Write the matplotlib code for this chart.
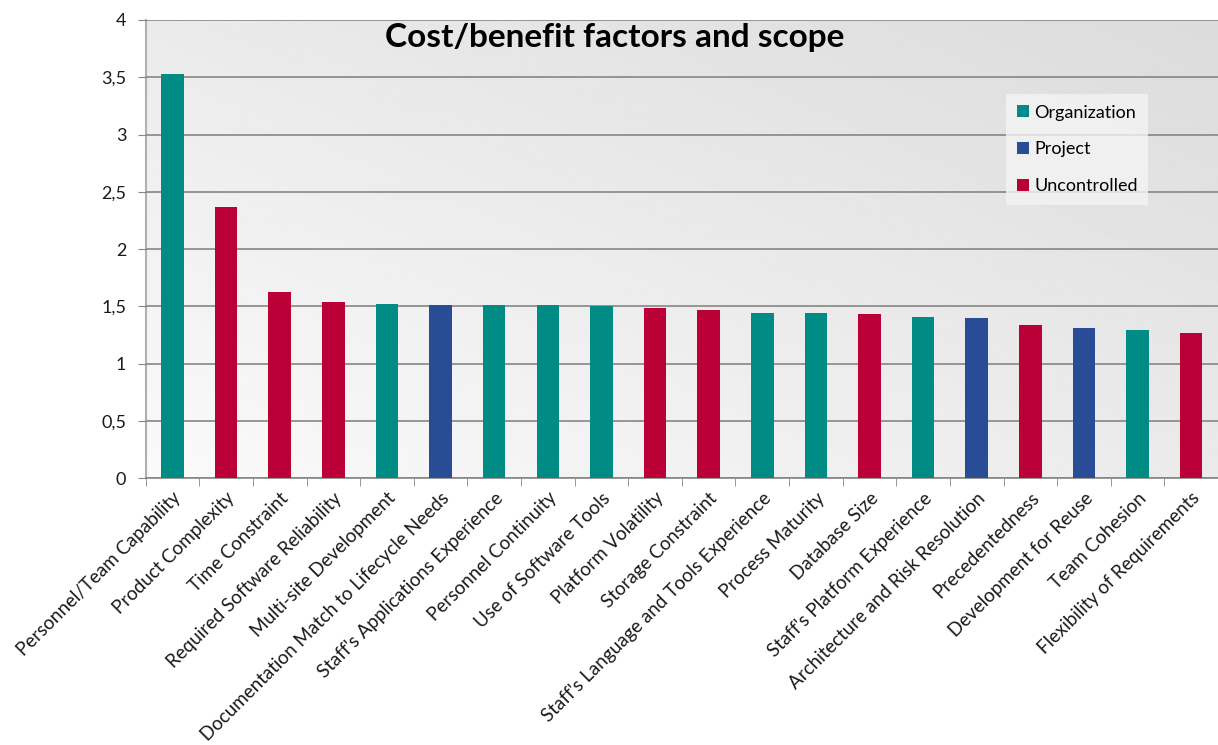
import numpy as np
import matplotlib.pyplot as plt
from matplotlib.patches import Patch
from matplotlib.ticker import FuncFormatter

factors = [
    "Personnel/Team Capability", "Product Complexity", "Time Constraint",
    "Required Software Reliability", "Multi-site Development",
    "Documentation Match to Lifecycle Needs", "Staff's Applications Experience",
    "Personnel Continuity", "Use of Software Tools", "Platform Volatility",
    "Storage Constraint", "Staff's Language and Tools Experience",
    "Process Maturity", "Database Size", "Staff's Platform Experience",
    "Architecture and Risk Resolution", "Precedentedness",
    "Development for Reuse", "Team Cohesion", "Flexibility of Requirements",
]
values = [3.53, 2.37, 1.63, 1.535, 1.525, 1.515, 1.51, 1.51, 1.50, 1.49,
          1.465, 1.44, 1.44, 1.43, 1.405, 1.395, 1.335, 1.315, 1.29, 1.265]
scope = ["Organization", "Uncontrolled", "Uncontrolled", "Uncontrolled",
         "Organization", "Project", "Organization", "Organization",
         "Organization", "Uncontrolled", "Uncontrolled", "Organization",
         "Organization", "Uncontrolled", "Organization", "Project",
         "Uncontrolled", "Project", "Organization", "Uncontrolled"]

scope_colors = {"Organization": "#008b84", "Project": "#284d96",
                "Uncontrolled": "#ba0036"}

plt.rcParams['font.family'] = ['Lato', 'DejaVu Sans']

fig = plt.figure(figsize=(12.18, 7.45), dpi=100)
ax = fig.add_axes([0.1196, 0.358, 0.8804, 0.6152])

# diagonal grey gradient behind the bars
gx, gy = np.meshgrid(np.linspace(0, 1, 200), np.linspace(0, 1, 200))
shade = 0.98 - 0.12 * (0.5 * gx + 0.5 * gy)
ax.imshow(shade, cmap='gray', vmin=0, vmax=1, origin='lower', aspect='auto',
          extent=[0, 1, 0, 1], transform=ax.transAxes, zorder=0)

pos = np.arange(len(factors))
ax.bar(pos, values, width=0.42, color=[scope_colors[s] for s in scope],
       zorder=3)

ax.set_xlim(-0.5, len(factors) - 0.5)
ax.set_ylim(0, 4)
ax.set_yticks(np.arange(0, 4.01, 0.5))
ax.yaxis.set_major_formatter(FuncFormatter(
    lambda v, p: ('%g' % v).replace('.', ',')))
ax.grid(axis='y', color='#868686', linewidth=1.2, zorder=1)
ax.set_axisbelow(False)

ax.set_xticks(pos)
ax.set_xticklabels(factors, rotation=45, ha='right', rotation_mode='anchor',
                   fontsize=13.5, color='#1a1a1a')
ax.set_xticks(np.arange(-0.5, len(factors), 1), minor=True)
ax.tick_params(axis='x', which='major', length=0, pad=8)
ax.tick_params(axis='x', which='minor', length=6, color='#868686')
ax.tick_params(axis='y', length=6, color='#868686', labelsize=13,
               labelcolor='#1a1a1a', pad=8)

for side in ['top', 'right']:
    ax.spines[side].set_visible(False)
ax.spines['left'].set_color('#b0b0b0')
ax.spines['left'].set_linewidth(1.5)
ax.spines['bottom'].set_color('#868686')
ax.spines['bottom'].set_linewidth(1.2)

fig.text(0.505, 0.949, "Cost/benefit factors and scope", ha='center',
         va='center', fontsize=24, fontweight='bold')

handles = [Patch(facecolor=scope_colors[k], label=k) for k in scope_colors]
leg = fig.legend(handles=handles, loc='upper left',
                 bbox_to_anchor=(0.826, 0.874), borderaxespad=0,
                 frameon=True, fontsize=13, handlelength=0.65,
                 handleheight=0.65, handletextpad=0.3, labelspacing=1.15,
                 borderpad=0.6, fancybox=False)
leg.get_frame().set_facecolor('#f4f4f4')
leg.get_frame().set_edgecolor('none')

fig.savefig('out.png', dpi=100)
